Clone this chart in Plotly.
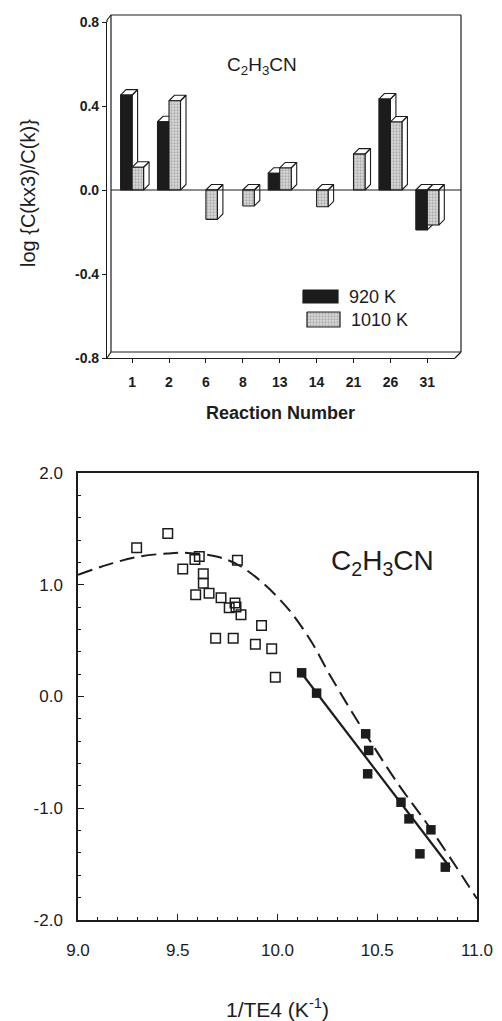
import plotly.graph_objects as go

W, H = 502, 1021

# ---------------- data: top chart ----------------
reactions = ["1", "2", "6", "8", "13", "14", "21", "26", "31"]
v920 = [0.452, 0.325, None, None, 0.08, None, None, 0.433, -0.19]
v1010 = [0.108, 0.425, -0.14, -0.076, 0.105, -0.08, 0.171, 0.324, -0.167]
series_names = ["920 K", "1010 K"]

# ---------------- data: bottom chart ----------------
open_x = [9.294, 9.45, 9.525, 9.586, 9.608, 9.628, 9.628, 9.59, 9.657, 9.717,
          9.787, 9.758, 9.792, 9.817, 9.799, 9.92, 9.69, 9.778, 9.889, 9.971, 9.989]
open_y = [1.33, 1.459, 1.14, 1.226, 1.253, 1.098, 1.014, 0.91, 0.925, 0.884,
          0.836, 0.794, 0.80, 0.731, 1.22, 0.636, 0.522, 0.522, 0.468, 0.427, 0.173]
filled_x = [10.121, 10.196, 10.442, 10.457, 10.452, 10.619, 10.659, 10.769, 10.714, 10.841]
filled_y = [0.212, 0.03, -0.334, -0.483, -0.692, -0.946, -1.095, -1.193, -1.408, -1.527]
fit_x = [10.12, 10.865]
fit_y = [0.21, -1.53]
model_x = [9.0, 9.15, 9.3, 9.45, 9.55, 9.7, 9.81, 9.93, 10.06, 10.17, 10.26,
           10.36, 10.44, 10.6, 10.77, 11.0]
model_y = [1.09, 1.18, 1.25, 1.28, 1.285, 1.25, 1.17, 1.01, 0.77, 0.49, 0.20,
           -0.10, -0.33, -0.77, -1.19, -1.81]

FONT = "Liberation Sans, Arial, sans-serif"
BLACK = "#1c1c1c"


def px2x(px):
    return px / W


def px2y(py):
    return 1 - py / H


# ---------------- layout geometry (pixels) ----------------
TOP_L, TOP_R, TOP_T, TOP_B = 107, 455, 22, 358
TOP_XRANGE = [-0.68, 8.75]
TOP_YRANGE = [-0.8, 0.8]
BOT_L, BOT_R, BOT_T, BOT_B = 78, 477, 473, 920

px_per_x = (TOP_R - TOP_L) / (TOP_XRANGE[1] - TOP_XRANGE[0])
px_per_y = (TOP_B - TOP_T) / (TOP_YRANGE[1] - TOP_YRANGE[0])
DEPTH_PX = 5.5
dx = DEPTH_PX / px_per_x
dy = DEPTH_PX / px_per_y
BAR_W = 11.5 / px_per_x


def bar_polys(vals, offset):
    fx, fy, sx, sy = [], [], [], []
    for i, v in enumerate(vals):
        if v is None:
            continue
        x0 = i + offset
        x1 = x0 + BAR_W
        top, bot = max(v, 0), min(v, 0)
        fx += [x0, x1, x1, x0, x0, None]
        fy += [bot, bot, top, top, bot, None]
        sx += [x1, x1 + dx, x1 + dx, x1, x1, None]
        sy += [bot, bot + dy, top + dy, top, bot, None]
        sx += [x0, x0 + dx, x1 + dx, x1, x0, None]
        sy += [top, top + dy, top + dy, top, top, None]
    return fx, fy, sx, sy


fig = go.Figure()

gray_pattern = dict(shape=".", bgcolor="#dcdcdc", fgcolor="#7a7a7a", size=3, solidity=0.45)

for vals, off, name in [(v920, -BAR_W, series_names[0]), (v1010, 0.0, series_names[1])]:
    fx, fy, sx, sy = bar_polys(vals, off)
    fig.add_trace(go.Scatter(x=sx, y=sy, mode="lines", fill="toself", fillcolor="white",
                             line=dict(color=BLACK, width=1.1), xaxis="x", yaxis="y",
                             showlegend=False, hoverinfo="skip"))
    if name == "920 K":
        fig.add_trace(go.Scatter(x=fx, y=fy, mode="lines", fill="toself", fillcolor=BLACK,
                                 line=dict(color=BLACK, width=1.1), xaxis="x", yaxis="y",
                                 name=name, showlegend=False))
    else:
        fig.add_trace(go.Scatter(x=fx, y=fy, mode="lines", fill="toself", fillcolor="#dcdcdc",
                                 fillpattern=gray_pattern,
                                 line=dict(color=BLACK, width=1.1), xaxis="x", yaxis="y",
                                 name=name, showlegend=False))

# ---------------- bottom chart traces ----------------
fig.add_trace(go.Scatter(x=model_x, y=model_y, mode="lines", line_shape="spline",
                         line=dict(color=BLACK, width=2, dash="15px,7px"),
                         xaxis="x2", yaxis="y2", showlegend=False))
fig.add_trace(go.Scatter(x=fit_x, y=fit_y, mode="lines",
                         line=dict(color=BLACK, width=2.2),
                         xaxis="x2", yaxis="y2", showlegend=False))
fig.add_trace(go.Scatter(x=open_x, y=open_y, mode="markers",
                         marker=dict(symbol="square-open", size=9.5, color=BLACK,
                                     line=dict(width=1.5, color=BLACK)),
                         xaxis="x2", yaxis="y2", showlegend=False))
fig.add_trace(go.Scatter(x=filled_x, y=filled_y, mode="markers",
                         marker=dict(symbol="square", size=9.5, color=BLACK),
                         xaxis="x2", yaxis="y2", showlegend=False))

# ---------------- legend swatches (pixel overlay axes) ----------------
sw = [(303, 338, 290, 303, BLACK, None), (307, 340, 312, 327, "#dcdcdc", gray_pattern)]
for (x0, x1, y0, y1, col, pat), name in zip(sw, series_names):
    kw = dict(fillpattern=pat) if pat else {}
    fig.add_trace(go.Scatter(x=[x0, x1, x1, x0, x0], y=[y0, y0, y1, y1, y0], mode="lines",
                             fill="toself", fillcolor=col, line=dict(color=BLACK, width=1.2),
                             xaxis="x3", yaxis="y3", showlegend=False, hoverinfo="skip", **kw))

shapes = []


def line_px(x0, y0, x1, y1, w=1.2):
    shapes.append(dict(type="line", xref="paper", yref="paper",
                       x0=px2x(x0), y0=px2y(y0), x1=px2x(x1), y1=px2y(y1),
                       line=dict(color=BLACK, width=w)))


# back frame of top chart (3D box)
BK_L, BK_R, BK_T, BK_B = 111, 461, 15, 352
line_px(BK_L, BK_T, BK_R, BK_T)
line_px(BK_R, BK_T, BK_R, BK_B)
line_px(BK_L, BK_T, BK_L, BK_B)
line_px(BK_L, BK_B, BK_R, BK_B)
line_px(TOP_L, TOP_T - 2, BK_L, BK_T)
line_px(TOP_L, TOP_B, BK_L, BK_B)
line_px(TOP_R, TOP_B, BK_R, BK_B)
line_px(TOP_L, TOP_T - 2, TOP_L, TOP_T)
# zero line
zero_py = TOP_T + (TOP_YRANGE[1] - 0) * px_per_y
line_px(BK_L, zero_py, BK_R, zero_py, 1.1)

annotations = [
    dict(text="C<sub>2</sub>H<sub>3</sub>CN", x=px2x(262), y=px2y(66), xref="paper", yref="paper",
         showarrow=False, font=dict(family=FONT, size=19, color=BLACK), xanchor="center", yanchor="middle"),
    dict(text="log {C(kx3)/C(k)}", x=px2x(28), y=px2y(193), xref="paper", yref="paper",
         showarrow=False, textangle=-90, font=dict(family=FONT, size=20, color=BLACK),
         xanchor="center", yanchor="middle"),
    dict(text="<b>Reaction Number</b>", x=px2x(280), y=px2y(413), xref="paper", yref="paper",
         showarrow=False, font=dict(family=FONT, size=18, color=BLACK), xanchor="center", yanchor="middle"),
    dict(text="920 K", x=px2x(347), y=px2y(297), xref="paper", yref="paper", showarrow=False,
         font=dict(family=FONT, size=18, color=BLACK), xanchor="left", yanchor="middle"),
    dict(text="1010 K", x=px2x(349), y=px2y(320), xref="paper", yref="paper", showarrow=False,
         font=dict(family=FONT, size=18, color=BLACK), xanchor="left", yanchor="middle"),
    dict(text="C<sub>2</sub>H<sub>3</sub>CN", x=px2x(382), y=px2y(562), xref="paper", yref="paper",
         showarrow=False, font=dict(family=FONT, size=28, color=BLACK), xanchor="center", yanchor="middle"),
    dict(text="1/TE4 (K<sup>-1</sup>)", x=px2x(277), y=px2y(1008), xref="paper", yref="paper",
         showarrow=False, font=dict(family=FONT, size=21, color=BLACK), xanchor="center", yanchor="middle"),
]

fig.update_layout(
    width=W, height=H, margin=dict(l=0, r=0, t=0, b=0, pad=0, autoexpand=False),
    paper_bgcolor="white", plot_bgcolor="rgba(0,0,0,0)",
    font=dict(family=FONT, color=BLACK),
    shapes=shapes, annotations=annotations, showlegend=False,
    xaxis=dict(domain=[px2x(TOP_L), px2x(TOP_R)], range=TOP_XRANGE,
               tickmode="array", tickvals=list(range(len(reactions))),
               ticktext=["<b>%s</b>" % r for r in reactions],
               ticks="outside", ticklen=4, tickcolor=BLACK, showline=True, linecolor=BLACK, linewidth=1.2,
               showgrid=False, zeroline=False, tickfont=dict(family=FONT, size=14, color=BLACK),
               ticklabelstandoff=7, anchor="y", fixedrange=True, automargin=False),
    yaxis=dict(domain=[px2y(TOP_B), px2y(TOP_T)], range=TOP_YRANGE,
               tickvals=[-0.8, -0.4, 0.0, 0.4, 0.8],
               ticktext=["<b>-0.8</b>", "<b>-0.4</b>", "<b>0.0</b>", "<b>0.4</b>", "<b>0.8</b>"],
               ticks="outside", ticklen=4, tickcolor=BLACK, showline=True, linecolor=BLACK, linewidth=1.2,
               showgrid=False, zeroline=False, tickfont=dict(family=FONT, size=14, color=BLACK),
               anchor="x", fixedrange=True, automargin=False),
    xaxis2=dict(domain=[px2x(BOT_L), px2x(BOT_R)], range=[9.0, 11.0],
                tickvals=[9.0, 9.5, 10.0, 10.5, 11.0], ticktext=["9.0", "9.5", "10.0", "10.5", "11.0"],
                ticks="inside", ticklen=6, tickcolor=BLACK, showline=True, mirror=True,
                linecolor=BLACK, linewidth=1.5, showgrid=False, zeroline=False,
                minor=dict(dtick=0.1, ticks="inside", ticklen=3, tickcolor=BLACK),
                tickfont=dict(family=FONT, size=17, color=BLACK), ticklabelstandoff=14,
                anchor="y2", fixedrange=True, automargin=False),
    yaxis2=dict(domain=[px2y(BOT_B), px2y(BOT_T)], range=[-2.0, 2.0],
                tickvals=[-2.0, -1.0, 0.0, 1.0, 2.0], ticktext=["-2.0", "-1.0", "0.0", "1.0", "2.0"],
                ticks="inside", ticklen=6, tickcolor=BLACK, showline=True, mirror=True,
                linecolor=BLACK, linewidth=1.5, showgrid=False, zeroline=False,
                minor=dict(dtick=0.2, ticks="inside", ticklen=3, tickcolor=BLACK),
                tickfont=dict(family=FONT, size=17, color=BLACK), ticklabelstandoff=10,
                anchor="x2", fixedrange=True, automargin=False),
    xaxis3=dict(domain=[0, 1], range=[0, W], visible=False, anchor="y3", fixedrange=True, automargin=False),
    yaxis3=dict(domain=[0, 1], range=[H, 0], visible=False, anchor="x3", fixedrange=True, automargin=False),
)

fig.write_html("out.html", config={"displayModeBar": False},
               post_script="document.body.style.margin='0';")
